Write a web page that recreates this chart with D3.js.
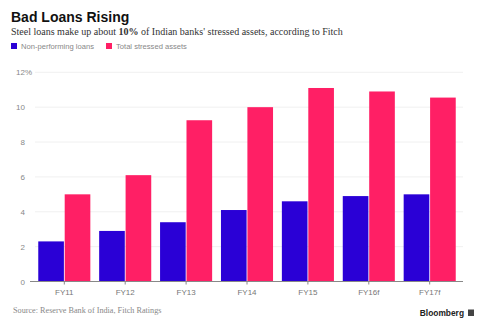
<!DOCTYPE html>
<html>
<head>
<meta charset="utf-8">
<script src="https://cdn.jsdelivr.net/npm/d3@7"></script>
<style>
  body { margin: 0; background: #fff; }
  text { font-family: "Liberation Sans", Arial, sans-serif; }
  .serif { font-family: "Liberation Serif", "Times New Roman", serif; }
</style>
</head>
<body>
<script>
// data
const years = ["FY11", "FY12", "FY13", "FY14", "FY15", "FY16f", "FY17f"];
const npl = [2.3, 2.9, 3.4, 4.1, 4.6, 4.9, 5.0];
const stressed = [5.0, 6.1, 9.25, 10.0, 11.1, 10.9, 10.55];
const yTicks = [0, 2, 4, 6, 8, 10, 12];
const seriesNames = ["Non-performing loans", "Total stressed assets"];
const colors = ["#2a00d6", "#ff1f65"];

const W = 488, H = 332;
const svg = d3.select("body").append("svg").attr("width", W).attr("height", H);

// titles
svg.append("text").attr("x", 11).attr("y", 22)
    .style("font-weight", "bold").style("font-size", "14px").attr("fill", "#111")
    .text("Bad Loans Rising");
const sub = svg.append("text").attr("class", "serif").attr("x", 11).attr("y", 35)
    .style("font-size", "10px").attr("fill", "#333");
sub.append("tspan").text("Steel loans make up about ");
sub.append("tspan").style("font-weight", "bold").text("10%");
sub.append("tspan").text(" of Indian banks' stressed assets, according to Fitch");

// legend
const leg = svg.append("g");
const legX = [11, 106];
seriesNames.forEach((n, i) => {
    leg.append("rect").attr("x", legX[i]).attr("y", 43).attr("width", 6).attr("height", 6).attr("fill", colors[i]);
    leg.append("text").attr("x", legX[i] + 10).attr("y", 49)
        .style("font-size", "7.6px").attr("fill", "#888").text(n);
});

const x = d3.scaleBand().domain(years).range([34, 460]).paddingInner(0.145).paddingOuter(0.07);
const x1 = d3.scaleBand().domain([0, 1]).range([0, x.bandwidth()]).paddingInner(0.03);
const y = d3.scaleLinear().domain([0, 12]).range([281.5, 72.3]);

// gridlines + y labels
const grid = svg.append("g");
yTicks.forEach(t => {
    if (t > 0) {
        grid.append("line").attr("x1", 35).attr("x2", 463)
            .attr("y1", y(t)).attr("y2", y(t)).attr("stroke", "#ececec").attr("stroke-width", 0.8);
    }
    grid.append("text").attr("x", 25).attr("y", y(t) + 3)
        .attr("text-anchor", "end").style("font-size", "8px").attr("fill", "#888")
        .text(t);
    if (t === 12) {
        grid.append("text").attr("x", 25).attr("y", y(t) + 3)
            .style("font-size", "8px").attr("fill", "#888").text("%");
    }
});

// bars
const groups = svg.selectAll("g.yr").data(years).enter().append("g")
    .attr("class", "yr").attr("transform", d => `translate(${x(d)},0)`);
groups.selectAll("rect").data((d, i) => [npl[i], stressed[i]]).enter().append("rect")
    .attr("x", (d, j) => x1(j))
    .attr("width", x1.bandwidth())
    .attr("y", d => y(d))
    .attr("height", d => y(0) - y(d))
    .attr("fill", (d, j) => colors[j]);

// x axis
svg.append("line").attr("x1", 30).attr("x2", 463).attr("y1", y(0)).attr("y2", y(0))
    .attr("stroke", "#888").attr("stroke-width", 1);
years.forEach(yr => {
    const cx = x(yr) + x.bandwidth() / 2;
    svg.append("line").attr("x1", cx).attr("x2", cx).attr("y1", y(0)).attr("y2", y(0) + 3)
        .attr("stroke", "#888");
    svg.append("text").attr("x", cx).attr("y", 295).attr("text-anchor", "middle")
        .style("font-size", "8px").attr("fill", "#777").text(yr);
});

// footer
svg.append("text").attr("class", "serif").attr("x", 13).attr("y", 313)
    .style("font-size", "8.2px").attr("fill", "#888")
    .text("Source: Reserve Bank of India, Fitch Ratings");
svg.append("text").attr("x", 464).attr("y", 316).attr("text-anchor", "end")
    .style("font-weight", "bold").style("font-size", "8.4px").attr("fill", "#222")
    .text("Bloomberg");
svg.append("rect").attr("x", 468).attr("y", 309.5).attr("width", 6).attr("height", 6.5).attr("fill", "#444");
</script>
</body>
</html>
